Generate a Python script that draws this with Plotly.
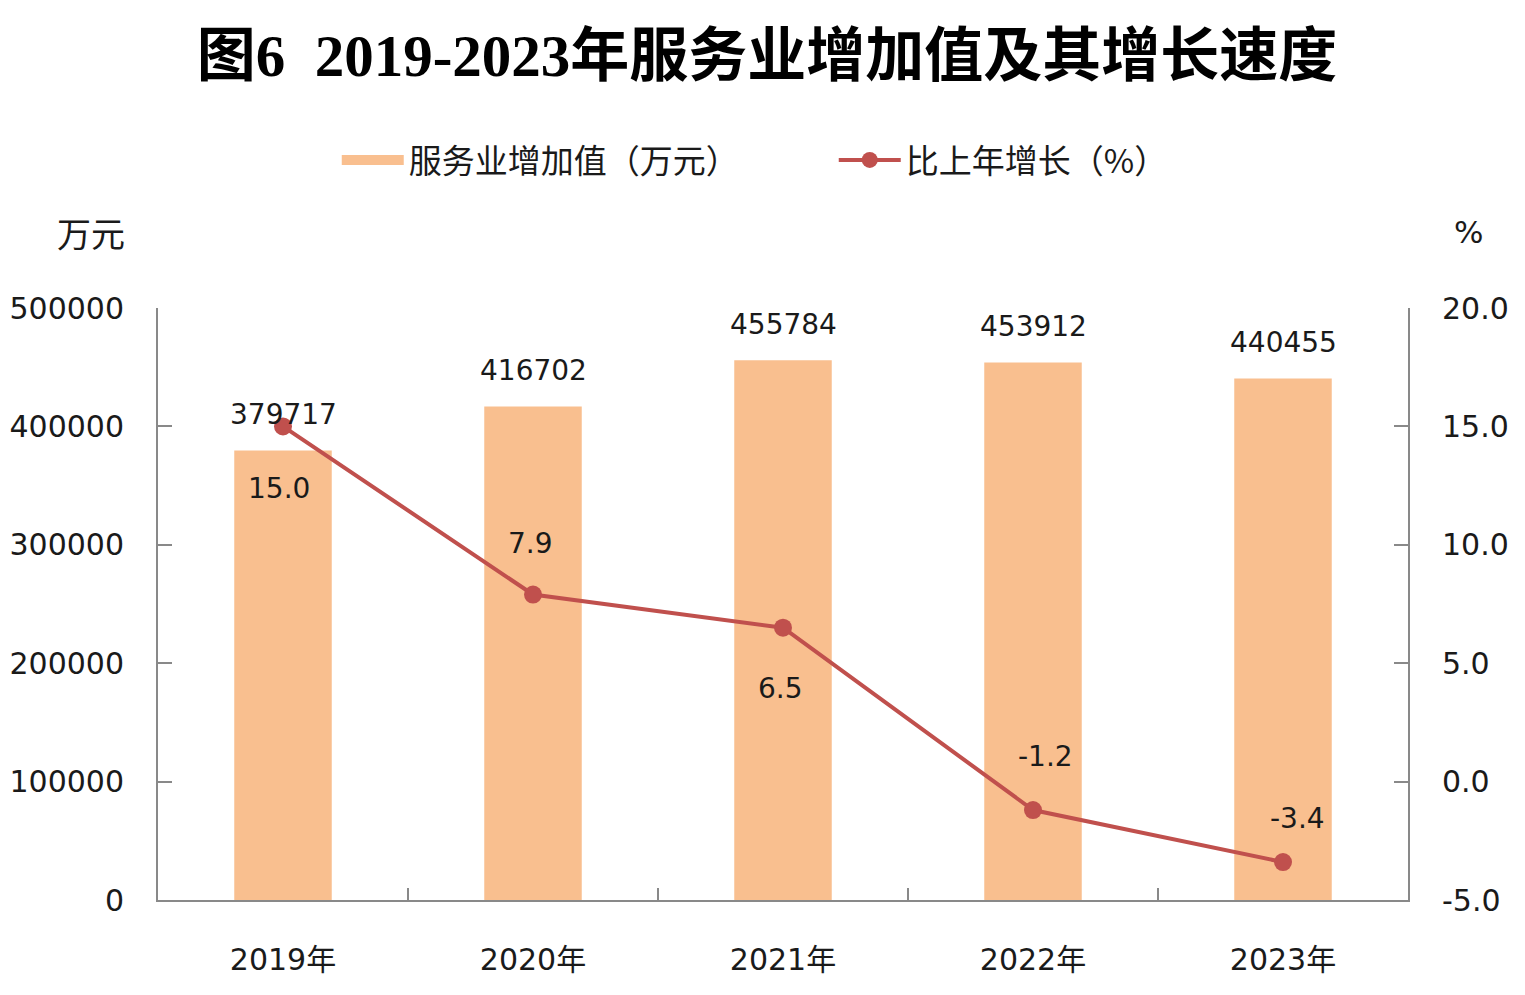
import plotly.graph_objects as go

# data
years = ['2019年', '2020年', '2021年', '2022年', '2023年']
service_value = [379717, 416702, 455784, 453912, 440455]
growth_rate = [15.0, 7.9, 6.5, -1.2, -3.4]

left_ticks = [0, 100000, 200000, 300000, 400000, 500000]
right_ticks = [-5.0, 0.0, 5.0, 10.0, 15.0, 20.0]

# label offsets (pixels) for the growth labels
rate_xshift = [-4, -3, -3, 12, 14]
rate_yshift = [-62, 51, -61, 54, 44]

bar_color = '#F9BF8F'
line_color = '#C0504D'
axis_color = '#898989'
text_color = '#1a1a1a'
font_main = 'DejaVu Sans, Noto Sans CJK SC'
font_cjk = 'Noto Sans CJK SC'

fig = go.Figure()

fig.add_trace(go.Bar(
    x=years, y=service_value, name='服务业增加值（万元）',
    marker=dict(color=bar_color, line=dict(width=0)),
    width=0.39, yaxis='y', showlegend=False
))

# legend entry for the bars drawn as a wide block, like the original
fig.add_trace(go.Scatter(
    x=[None], y=[None], name='服务业增加值（万元）', mode='lines',
    line=dict(color=bar_color, width=20), yaxis='y'
))

fig.add_trace(go.Scatter(
    x=years, y=growth_rate, name='比上年增长（%）',
    mode='lines+markers',
    line=dict(color=line_color, width=4),
    marker=dict(color=line_color, size=18),
    yaxis='y2'
))

annotations = []
for yr, v in zip(years, service_value):
    annotations.append(dict(x=yr, y=v, xref='x', yref='y', text=str(v),
                            showarrow=False, yshift=36,
                            font=dict(family=font_main, size=28, color=text_color)))
for yr, r, dx, dy in zip(years, growth_rate, rate_xshift, rate_yshift):
    annotations.append(dict(x=yr, y=r, xref='x', yref='y2', text=f'{r:.1f}',
                            showarrow=False, xshift=dx, yshift=dy,
                            font=dict(family=font_main, size=28, color=text_color)))

# unit labels
annotations.append(dict(x=-0.054, y=(900 - 232) / 592, xref='paper', yref='paper',
                        text='万元', showarrow=False, xanchor='center', yanchor='middle',
                        font=dict(family=font_cjk, size=34, color=text_color)))
annotations.append(dict(x=1.048, y=(900 - 232) / 592, xref='paper', yref='paper',
                        text='%', showarrow=False, xanchor='center', yanchor='middle',
                        font=dict(family=font_main, size=31, color=text_color)))

tick_font = dict(family=font_main, size=30, color=text_color)

fig.update_layout(
    width=1509, height=979,
    margin=dict(l=150, r=109, t=300, b=87),
    paper_bgcolor='white', plot_bgcolor='white',
    annotations=annotations,
    title=dict(text='<b>图6  2019-2023年服务业增加值及其增长速度</b>',
               x=0.503, xanchor='center', y=0.952, yanchor='middle',
               font=dict(family='Liberation Serif, Noto Sans CJK SC', size=59, color='black')),
    legend=dict(orientation='h', x=0.143, xanchor='left', y=1.25, yanchor='middle',
                font=dict(family=font_cjk, size=33, color=text_color),
                itemwidth=62, traceorder='normal', entrywidth=420, entrywidthmode='pixels'),
    showlegend=True,
    xaxis=dict(showline=True, linecolor=axis_color, linewidth=2,
               ticks='inside', ticklen=12, tickcolor=axis_color, tickwidth=2,
               tickson='boundaries', showgrid=False, automargin=False,
               tickfont=tick_font, ticklabelstandoff=32),
    yaxis=dict(range=[0, 500000], tickvals=left_ticks,
               ticktext=[str(t) for t in left_ticks],
               showline=True, linecolor=axis_color, linewidth=2,
               ticks='inside', ticklen=14, tickcolor=axis_color, tickwidth=2,
               showgrid=False, zeroline=False, automargin=False,
               tickfont=tick_font, ticklabelstandoff=26),
    yaxis2=dict(range=[-5, 20], tickvals=right_ticks,
                ticktext=[f'{t:.1f}' for t in right_ticks],
                overlaying='y', side='right',
                showline=True, linecolor=axis_color, linewidth=2,
                ticks='inside', ticklen=14, tickcolor=axis_color, tickwidth=2,
                showgrid=False, zeroline=False, automargin=False,
                tickfont=tick_font, ticklabelstandoff=26),
)

fig.write_html("out.html")
